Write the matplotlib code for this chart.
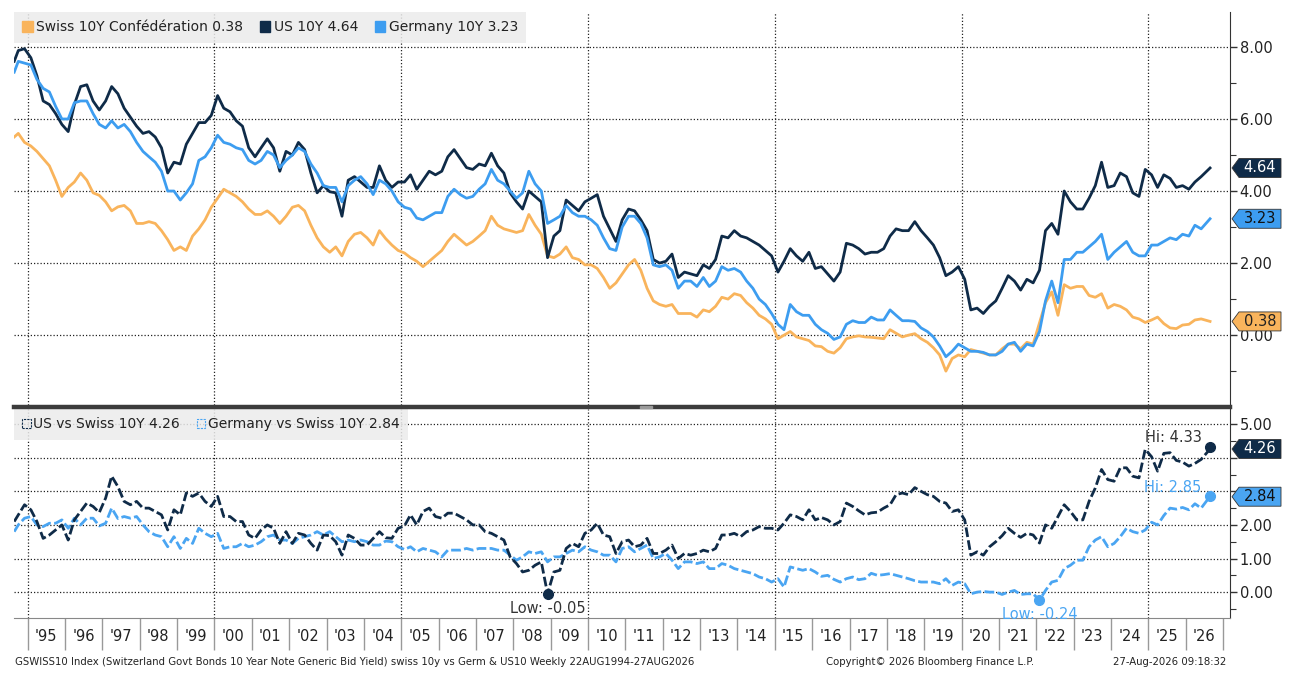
import matplotlib
matplotlib.use("Agg")
import matplotlib.pyplot as plt
import matplotlib.dates as mdates
from matplotlib.patches import Patch, Polygon, Rectangle
from matplotlib.lines import Line2D
import numpy as np
import pandas as pd

plt.rcParams["font.family"] = ["DejaVu Sans"]

# sampling dates: first print, every two months, last print
dates = (pd.DatetimeIndex(["1994-08-22"])
         .append(pd.date_range("1994-10-01", "2026-06-01", freq="2MS"))
         .append(pd.DatetimeIndex(["2026-08-27"])))

us = [7.6, 7.9, 7.95,
      7.7, 7.2, 6.5, 6.4, 6.15, 5.85,
      5.65, 6.4, 6.9, 6.95, 6.5, 6.25,
      6.5, 6.9, 6.7, 6.3, 6.05, 5.8,
      5.6, 5.65, 5.5, 5.2, 4.5, 4.8,
      4.75, 5.3, 5.6, 5.9, 5.9, 6.1,
      6.65, 6.3, 6.2, 5.95, 5.8, 5.2,
      4.95, 5.2, 5.45, 5.2, 4.55, 5.1,
      5.0, 5.35, 5.15, 4.5, 3.95, 4.15,
      3.98, 3.95, 3.3, 4.3, 4.4, 4.25,
      4.1, 4.1, 4.7, 4.3, 4.1, 4.25,
      4.25, 4.45, 4.05, 4.3, 4.55, 4.45,
      4.55, 4.95, 5.15, 4.9, 4.65, 4.6,
      4.75, 4.7, 5.05, 4.7, 4.5, 3.95,
      3.7, 3.5, 4.0, 3.85, 3.7, 2.15,
      2.75, 2.9, 3.75, 3.6, 3.45, 3.7,
      3.8, 3.9, 3.3, 2.95, 2.6, 3.2,
      3.5, 3.45, 3.2, 2.9, 2.1, 2.0,
      2.05, 2.25, 1.6, 1.75, 1.7, 1.65,
      1.95, 1.85, 2.1, 2.75, 2.7, 2.9,
      2.75, 2.7, 2.6, 2.5, 2.35, 2.2,
      1.75, 2.05, 2.4, 2.2, 2.05, 2.3,
      1.85, 1.9, 1.7, 1.5, 1.75, 2.55,
      2.5, 2.4, 2.25, 2.3, 2.3, 2.4,
      2.75, 2.95, 2.9, 2.9, 3.15, 2.9,
      2.7, 2.5, 2.15, 1.65, 1.75, 1.9,
      1.55, 0.7, 0.75, 0.6, 0.8, 0.95,
      1.3, 1.65, 1.5, 1.25, 1.55, 1.45,
      1.8, 2.9, 3.1, 2.8, 4.0, 3.7,
      3.5, 3.5, 3.8, 4.15, 4.8, 4.1,
      4.15, 4.5, 4.4, 3.95, 3.85, 4.6,
      4.45, 4.1, 4.45, 4.35, 4.1, 4.15,
      4.05, 4.25, 4.4, 4.64]

germany = [7.3, 7.6, 7.55,
           7.5, 7.1, 6.85, 6.75, 6.35, 6.0,
           6.0, 6.45, 6.5, 6.5, 6.15, 5.85,
           5.75, 5.95, 5.75, 5.85, 5.65, 5.35,
           5.1, 4.95, 4.8, 4.55, 4.0, 4.0,
           3.75, 3.95, 4.2, 4.85, 4.95, 5.2,
           5.55, 5.35, 5.3, 5.2, 5.15, 4.85,
           4.75, 4.85, 5.1, 5.0, 4.65, 4.85,
           5.0, 5.2, 5.1, 4.75, 4.5, 4.15,
           4.1, 4.1, 3.7, 4.15, 4.3, 4.4,
           4.2, 3.9, 4.3, 4.2, 4.0, 3.7,
           3.55, 3.5, 3.25, 3.2, 3.3, 3.4,
           3.4, 3.85, 4.05, 3.9, 3.8, 3.85,
           4.05, 4.2, 4.6, 4.3, 4.2, 4.0,
           3.8, 3.95, 4.55, 4.2, 4.0, 3.1,
           3.2, 3.3, 3.6, 3.4, 3.3, 3.3,
           3.2, 3.05, 2.7, 2.4, 2.35, 3.0,
           3.3, 3.3, 3.1, 2.7, 1.95, 1.9,
           1.95, 1.8, 1.3, 1.5, 1.5, 1.35,
           1.6, 1.35, 1.5, 1.9, 1.8, 1.85,
           1.75, 1.5, 1.3, 1.0, 0.85, 0.6,
           0.3, 0.15, 0.85, 0.65, 0.55, 0.55,
           0.3, 0.15, 0.05, -0.12, -0.05, 0.3,
           0.4, 0.35, 0.35, 0.5, 0.42, 0.42,
           0.7, 0.55, 0.4, 0.4, 0.38, 0.2,
           0.1, -0.05, -0.3, -0.6, -0.45, -0.25,
           -0.35, -0.45, -0.45, -0.48, -0.55, -0.55,
           -0.45, -0.25, -0.2, -0.45, -0.25, -0.3,
           0.1, 0.95, 1.5, 0.9, 2.1, 2.1,
           2.3, 2.3, 2.45, 2.6, 2.8, 2.1,
           2.3, 2.45, 2.6, 2.3, 2.2, 2.2,
           2.5, 2.5, 2.6, 2.7, 2.65, 2.8,
           2.75, 3.05, 2.95, 3.23]

swiss = [5.5, 5.6, 5.35,
         5.25, 5.1, 4.9, 4.7, 4.3, 3.85,
         4.1, 4.25, 4.5, 4.3, 3.95, 3.88,
         3.7, 3.45, 3.56, 3.6, 3.45, 3.1,
         3.1, 3.15, 3.1, 2.9, 2.65, 2.35,
         2.45, 2.35, 2.75, 2.95, 3.2, 3.55,
         3.8, 4.05, 3.95, 3.85, 3.7, 3.5,
         3.35, 3.35, 3.45, 3.3, 3.1, 3.3,
         3.55, 3.6, 3.45, 3.05, 2.7, 2.45,
         2.3, 2.45, 2.2, 2.6, 2.8, 2.85,
         2.7, 2.5, 2.9, 2.68, 2.5, 2.35,
         2.28, 2.15, 2.05, 1.9, 2.05, 2.2,
         2.35, 2.6, 2.8, 2.65, 2.5, 2.6,
         2.75, 2.9, 3.3, 3.05, 2.95, 2.9,
         2.85, 2.9, 3.35, 3.05, 2.8, 2.2,
         2.15, 2.25, 2.45, 2.15, 2.1, 1.95,
         1.95, 1.85, 1.6, 1.3, 1.45, 1.7,
         1.95, 2.1, 1.8, 1.3, 0.95, 0.85,
         0.8, 0.85, 0.6, 0.6, 0.6, 0.5,
         0.7, 0.65, 0.8, 1.05, 1.0, 1.15,
         1.1, 0.9, 0.75, 0.55, 0.45, 0.3,
         -0.1, 0.0, 0.1, -0.05, -0.1, -0.15,
         -0.3, -0.32, -0.45, -0.5, -0.35, -0.1,
         -0.05, -0.02, -0.05, -0.06, -0.08, -0.1,
         0.15, 0.05, -0.05, 0.0, 0.04, -0.1,
         -0.2, -0.35, -0.55, -1.0, -0.65, -0.55,
         -0.6, -0.4, -0.45, -0.5, -0.55, -0.55,
         -0.38, -0.25, -0.25, -0.38, -0.2, -0.25,
         0.34, 0.9, 1.2, 0.55, 1.4, 1.3,
         1.35, 1.35, 1.1, 1.05, 1.15, 0.75,
         0.85, 0.8, 0.7, 0.5, 0.45, 0.35,
         0.42, 0.5, 0.32, 0.2, 0.18, 0.28,
         0.3, 0.42, 0.45, 0.38]

# last values shown in the lower legend / tags, and hi/low labels
us_sw_last, de_sw_last = 4.26, 2.84
us_sw_hi, us_sw_low = 4.33, -0.05
de_sw_hi, de_sw_low = 2.85, -0.24

us_a, de_a, sw_a = np.array(us), np.array(germany), np.array(swiss)
us_sw = us_a - sw_a
de_sw = de_a - sw_a

SW_C = "#f9b45c"
US_C = "#0f2b48"
DE_C = "#3d9df0"
DE2_C = "#4aa5f2"
TXT = "#222222"

W, H = 1313, 686
fig = plt.figure(figsize=(W / 100, H / 100), dpi=100)
L, R = 14 / W, 1230 / W
ax1 = fig.add_axes([L, 1 - 405 / H, R - L, (405 - 12) / H])
ax2 = fig.add_axes([L, 1 - 618 / H, R - L, (618 - 409) / H])

xmin, xmax = pd.Timestamp("1994-08-20"), pd.Timestamp("2027-03-10")
grid_years = [1995, 2000, 2005, 2010, 2015, 2020, 2025]
grid_kw = dict(color="#222222", lw=0.9, ls=(0, (1, 1.6)), zorder=1)


def blank_near(tags):
    # hide the axis labels that sit under a last-value tag
    def fmt(v, pos):
        if any(abs(v - t) < 0.45 for t in tags):
            return ""
        return f"{v:.2f}"
    return matplotlib.ticker.FuncFormatter(fmt)


for ax in (ax1, ax2):
    ax.set_xlim(xmin, xmax)
    for s in ("left", "top"):
        ax.spines[s].set_visible(False)
    ax.spines["right"].set_color("#333333")
    ax.yaxis.tick_right()
    ax.tick_params(axis="y", which="major", length=5, width=1, colors="#333333",
                   labelcolor=TXT, labelsize=10.5, pad=2)
    ax.tick_params(axis="y", which="minor", length=4, width=0.8, colors="#333333")
    for y in grid_years:
        ax.axvline(pd.Timestamp(f"{y}-01-01"), **grid_kw)

# top panel
ax1.plot(dates, swiss, color=SW_C, lw=2.0, zorder=3)
ax1.plot(dates, us, color=US_C, lw=2.0, zorder=4)
ax1.plot(dates, germany, color=DE_C, lw=2.0, zorder=5)
ax1.set_ylim(-1.94, 8.97)
ax1.set_yticks([0, 2, 4, 6, 8])
ax1.set_yticks([-1, 1, 3, 5, 7], minor=True)
ax1.yaxis.set_major_formatter(matplotlib.ticker.FormatStrFormatter("%.2f"))
for v in [0, 2, 4, 6, 8]:
    ax1.axhline(v, **grid_kw)
ax1.spines["bottom"].set_visible(False)
ax1.set_xticks([])

leg1 = ax1.legend(
    [Patch(color=SW_C), Patch(color=US_C), Patch(color=DE_C)],
    [f"Swiss 10Y Confédération {swiss[-1]:.2f}", f"US 10Y {us[-1]:.2f}",
     f"Germany 10Y {germany[-1]:.2f}"],
    loc="upper left", bbox_to_anchor=(0, 1), borderaxespad=0, ncol=3,
    frameon=True, fancybox=False, facecolor="#ebebeb", edgecolor="none",
    framealpha=0.85, handlelength=0.75, handleheight=0.75, handletextpad=0.25,
    columnspacing=1.2, fontsize=10, borderpad=0.6)
for t in leg1.get_texts():
    t.set_color(TXT)
leg1.set_zorder(2)

# bottom panel
ax2.plot(dates, us_sw, color=US_C, lw=2.0, ls=(0, (3.5, 1.2)), zorder=4)
ax2.plot(dates, de_sw, color=DE2_C, lw=2.0, ls=(0, (3.5, 1.2)), zorder=3)
ax2.set_ylim(-0.77, 5.45)
ax2.set_yticks([0, 1, 2, 3, 4, 5])
ax2.set_yticks([-0.5, 0.5, 1.5, 2.5, 3.5, 4.5], minor=True)
ax2.yaxis.set_major_formatter(blank_near([us_sw_last, de_sw_last]))
for v in [0, 1, 2, 3, 4, 5]:
    ax2.axhline(v, **grid_kw)
ax2.spines["bottom"].set_color("#888888")
ax2.xaxis.set_major_locator(mdates.YearLocator(1))
ax2.xaxis.set_major_formatter(matplotlib.ticker.NullFormatter())
ax2.xaxis.set_minor_locator(mdates.YearLocator(1, month=7, day=1))
ax2.xaxis.set_minor_formatter(mdates.DateFormatter("'%y"))
ax2.tick_params(axis="x", which="major", length=23, width=1, colors="#999999")
ax2.tick_params(axis="x", which="minor", length=0, pad=8, labelsize=10.5,
                labelcolor=TXT)

leg2 = ax2.legend(
    [Patch(facecolor="none", edgecolor=US_C, lw=0.8, ls=(0, (2, 1))),
     Patch(facecolor="none", edgecolor=DE2_C, lw=0.8, ls=(0, (2, 1)))],
    [f"US vs Swiss 10Y {us_sw_last:.2f}", f"Germany vs Swiss 10Y {de_sw_last:.2f}"],
    loc="upper left", bbox_to_anchor=(0, 1), borderaxespad=0, ncol=2,
    frameon=True, fancybox=False, facecolor="#ebebeb", edgecolor="none",
    framealpha=0.85, handlelength=0.6, handleheight=0.6, handletextpad=0.2,
    columnspacing=1.2, fontsize=10, borderpad=0.6)
for t in leg2.get_texts():
    t.set_color(TXT)
leg2.set_zorder(2)

# hi / low markers
i_lo = int(np.argmin(us_sw))
i_hi = int(np.argmax(us_sw))
j_lo = int(np.argmin(de_sw))
j_hi = int(np.argmax(de_sw))
ax2.plot(dates[i_lo], us_sw_low, "o", color=US_C, ms=7, zorder=6, clip_on=False)
ax2.annotate(f"Low: {us_sw_low:.2f}", (dates[i_lo], us_sw_low), xytext=(0, -5),
             textcoords="offset points", ha="center", va="top", fontsize=10.5,
             color="#333333", zorder=6)
ax2.plot(dates[i_hi], us_sw_hi, "o", color=US_C, ms=7, zorder=6, clip_on=False)
ax2.annotate(f"Hi: {us_sw_hi:.2f}", (dates[i_hi], us_sw_hi), xytext=(-6, 1),
             textcoords="offset points", ha="right", va="bottom", fontsize=10.5,
             color="#333333", zorder=6)
ax2.plot(dates[j_lo], de_sw_low, "o", color=DE2_C, ms=7, zorder=6, clip_on=False)
ax2.annotate(f"Low: {de_sw_low:.2f}", (dates[j_lo], de_sw_low), xytext=(0, -5),
             textcoords="offset points", ha="center", va="top", fontsize=10.5,
             color=DE2_C, zorder=6)
ax2.plot(dates[j_hi], de_sw_hi, "o", color=DE2_C, ms=7, zorder=6, clip_on=False)
ax2.annotate(f"Hi: {de_sw_hi:.2f}", (dates[j_hi], de_sw_hi), xytext=(-6, 1),
             textcoords="offset points", ha="right", va="bottom", fontsize=10.5,
             color=DE2_C, zorder=6)


def tag(ax, value, face, fg):
    fy = ax.transData.transform((0, value))[1] / fig.bbox.height
    h = 9.5 / H
    x0, x1, x2 = 1232 / W, 1239 / W, 1281 / W
    fig.add_artist(Polygon([(x0, fy), (x1, fy + h), (x2, fy + h), (x2, fy - h),
                            (x1, fy - h)], closed=True, facecolor=face,
                           edgecolor="#333333", lw=0.6, transform=fig.transFigure,
                           zorder=10))
    fig.text((x1 + x2) / 2, fy, f"{value:.2f}", ha="center", va="center",
             fontsize=10.5, color=fg, zorder=11)


tag(ax1, us[-1], US_C, "white")
tag(ax1, germany[-1], DE_C, "#111111")
tag(ax1, swiss[-1], SW_C, "#222222")
tag(ax2, us_sw_last, US_C, "white")
tag(ax2, de_sw_last, DE2_C, "#111111")

# panel separator
fig.add_artist(Line2D([L, R], [1 - 407 / H] * 2, transform=fig.transFigure,
                      color="#3c3c3c", lw=3.2, zorder=8))
fig.add_artist(Rectangle((640 / W, 1 - 408 / H), 12 / W, 2 / H,
                         transform=fig.transFigure, color="#9a9a9a", zorder=9))

# footer
fig.text(15 / W, 1 - 662 / H,
         "GSWISS10 Index (Switzerland Govt Bonds 10 Year Note Generic Bid Yield) "
         "swiss 10y vs Germ & US10 Weekly 22AUG1994-27AUG2026",
         ha="left", va="center", fontsize=7.3, color=TXT)
fig.text(930 / W, 1 - 662 / H, "Copyright© 2026 Bloomberg Finance L.P.",
         ha="center", va="center", fontsize=7.3, color=TXT)
fig.text(1226 / W, 1 - 662 / H, "27-Aug-2026 09:18:32",
         ha="right", va="center", fontsize=7.3, color=TXT)

fig.savefig("out.png", dpi=100, facecolor="white")
